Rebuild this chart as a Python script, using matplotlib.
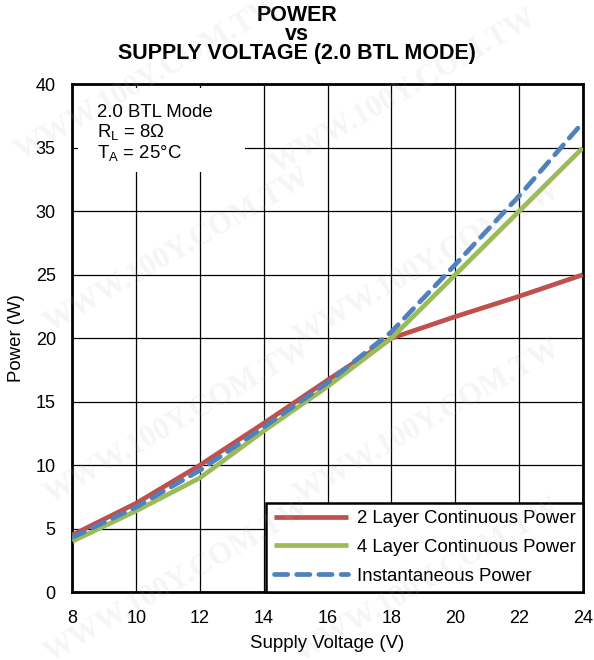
import matplotlib
matplotlib.use('Agg')
import matplotlib.pyplot as plt
from matplotlib.patches import Rectangle

plt.rcParams['font.family'] = ['Liberation Sans', 'DejaVu Sans']
plt.rcParams['mathtext.fontset'] = 'custom'
plt.rcParams['mathtext.rm'] = 'Liberation Sans'
plt.rcParams['mathtext.it'] = 'Liberation Sans'

# Data
voltage = [8, 10, 12, 14, 16, 18, 20, 22, 24]
power_2layer = [4.5, 7.0, 10.0, 13.3, 16.7, 20.0, 21.7, 23.3, 25.0]
power_4layer = [4.0, 6.4, 9.0, 12.7, 16.2, 20.0, 25.0, 30.0, 35.0]
power_inst = [4.3, 6.7, 9.6, 13.0, 16.5, 20.5, 25.8, 31.2, 37.0]

labels = ['2 Layer Continuous Power', '4 Layer Continuous Power',
          'Instantaneous Power']
colors = ['#C0504D', '#9BBB59', '#4F81BD']

fig = plt.figure(figsize=(5.94, 6.60), dpi=100)
ax = fig.add_axes([0.122, 0.103, 0.859, 0.769])

# Lines
ax.plot(voltage, power_2layer, color=colors[0], lw=3.4, label=labels[0],
        solid_capstyle='butt', zorder=3)
ax.plot(voltage, power_4layer, color=colors[1], lw=3.4, label=labels[1],
        solid_capstyle='butt', zorder=3)
ax.plot(voltage, power_inst, color=colors[2], lw=3.4, label=labels[2],
        dashes=(2.8, 1.9), dash_capstyle='round', zorder=4)

ax.set_xlim(8, 24)
ax.set_ylim(0, 40)
ax.set_xticks(range(8, 25, 2))
ax.set_yticks(range(0, 41, 5))
ax.grid(True, color='black', lw=0.9)
ax.set_axisbelow(True)
ax.tick_params(labelsize=13, length=0)
ax.tick_params(axis='x', pad=13)
ax.tick_params(axis='y', pad=12)
for s in ax.spines.values():
    s.set_linewidth(2)

ax.set_xlabel('Supply Voltage (V)', fontsize=13.4, labelpad=6)
ax.set_ylabel('Power (W)', fontsize=13.4, labelpad=8)

fig.text(0.5, 0.948, 'POWER\nvs\nSUPPLY VOLTAGE (2.0 BTL MODE)',
         ha='center', va='center', fontsize=15.5, fontweight='bold',
         linespacing=0.88)

# White box behind the conditions note
ax.add_patch(Rectangle((0.01, 0.828), 0.329, 0.166, transform=ax.transAxes,
                       facecolor='white', edgecolor='none', zorder=2))
ax.text(0.049, 0.962, '2.0 BTL Mode\nR$_\\mathrm{L}$ = 8Ω\nT$_\\mathrm{A}$ = 25°C',
        transform=ax.transAxes, ha='left', va='top', fontsize=13.4,
        linespacing=1.07, zorder=5)

leg = ax.legend(loc='lower right', fontsize=13.4, frameon=True,
                fancybox=False, borderaxespad=0, handlelength=4.0,
                handletextpad=0.45, labelspacing=0.62, borderpad=0.4)
leg.get_frame().set_edgecolor('black')
leg.get_frame().set_linewidth(1.8)
leg.get_frame().set_alpha(1)

# Faint watermark
marks = [(0.25, 0.88), (0.68, 0.86), (0.3, 0.62), (0.72, 0.6),
         (0.3, 0.36), (0.72, 0.36), (0.3, 0.12), (0.72, 0.12)]
for mx, my in marks:
    fig.text(mx, my, 'WWW.100Y.COM.TW', fontsize=22, fontweight='bold',
             family='Liberation Serif', color='#B0B0B0', alpha=0.12,
             rotation=30, ha='center', va='center', zorder=10)

plt.savefig('out.png', dpi=100)
